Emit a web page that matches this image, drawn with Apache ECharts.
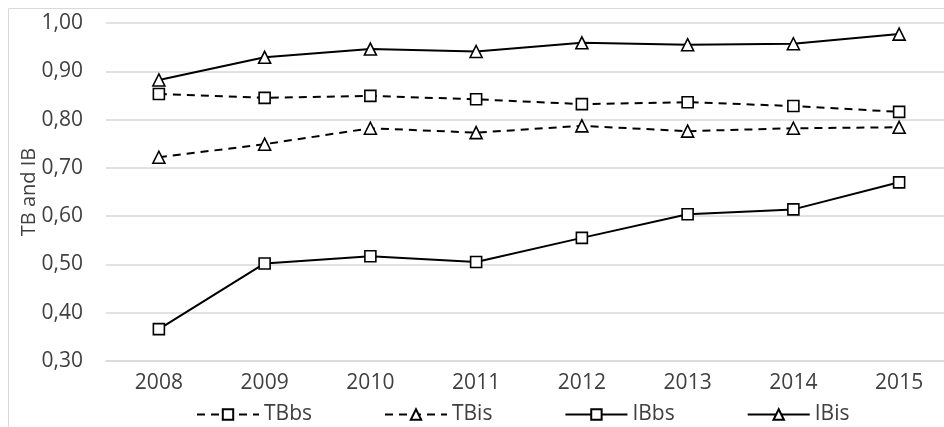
<!DOCTYPE html>
<html><head><meta charset="utf-8">
<script src="https://cdn.jsdelivr.net/npm/echarts@6/dist/echarts.min.js"></script>
<style>html,body{margin:0;padding:0;background:#fff}#c{width:944px;height:427px}</style>
</head><body><div id="c"></div>
<script>
const years = ['2008','2009','2010','2011','2012','2013','2014','2015'];
const TBbs = [0.853,0.845,0.849,0.842,0.832,0.836,0.828,0.816];
const TBis = [0.722,0.749,0.782,0.773,0.787,0.776,0.782,0.784];
const IBbs = [0.366,0.502,0.517,0.505,0.555,0.604,0.614,0.670];
const IBis = [0.882,0.929,0.946,0.941,0.959,0.955,0.957,0.977];

const font = 'Open Sans, Liberation Sans, sans-serif';
function mk(name, data, dashed, symbol){
  return {
    name, type:'line', data, symbol, symbolSize: symbol==='triangle'?12:11,
    showSymbol:true,
    lineStyle:{color:'#000', width:2, type: dashed?[8,6]:'solid'},
    itemStyle:{color:'#fff', borderColor:'#000', borderWidth:1.6},
    emphasis:{disabled:true}, animation:false
  };
}
const chart = echarts.init(document.getElementById('c'), null, {renderer:'canvas'});
chart.setOption({
  animation:false,
  graphic:[{type:'rect', shape:{x:8.5,y:8.5,width:960,height:440}, style:{fill:'none', stroke:'#d9d9d9', lineWidth:1}, silent:true}],
  grid:{left:106, width:846, top:23, bottom:66, outerBoundsMode:'none', containLabel:false},
  xAxis:{type:'category', data:years, boundaryGap:true,
    axisLine:{lineStyle:{color:'#d9d9d9', width:1.5}}, axisTick:{show:false},
    axisLabel:{color:'#404040', fontSize:21, fontFamily:font, margin:12}},
  yAxis:{type:'value', min:0.3, max:1.0, interval:0.1,
    name:'TB and IB', nameLocation:'middle', nameGap:67, nameRotate:90, nameMoveOverlap:false,
    nameTextStyle:{color:'#404040', fontSize:20, fontFamily:font},
    axisLine:{show:false}, axisTick:{show:false},
    splitLine:{lineStyle:{color:'#d9d9d9', width:1.5}},
    axisLabel:{color:'#404040', fontSize:21, fontFamily:font, margin:23,
      formatter:v=>v.toFixed(2).replace('.',',')}},
  legend:{top:399, left:191, itemWidth:62, itemHeight:13, itemGap:72,
    textStyle:{color:'#404040', fontSize:21, fontFamily:font},
    data:['TBbs','TBis','IBbs','IBis']},
  series:[mk('TBbs',TBbs,true,'rect'), mk('TBis',TBis,true,'triangle'), mk('IBbs',IBbs,false,'rect'), mk('IBis',IBis,false,'triangle')]
});
</script></body></html>
